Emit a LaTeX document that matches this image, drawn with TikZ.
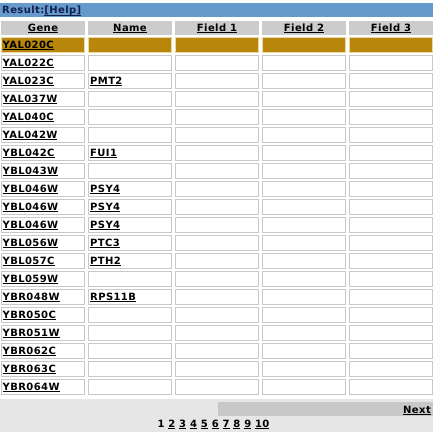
\documentclass[tikz,border=0pt]{standalone}
\usepackage{fontspec}
\setmainfont{DejaVu Sans}
\newfontfamily\vb[LetterSpace=4]{DejaVu Sans Bold}
\definecolor{titleblue}{HTML}{6699CC}
\definecolor{navy}{HTML}{14214D}
\definecolor{hdrgrey}{HTML}{CCCCCC}
\definecolor{gold}{HTML}{B8860B}
\definecolor{goldline}{HTML}{EAD9A0}
\definecolor{cellline}{HTML}{C8C8C8}
\definecolor{footgrey}{HTML}{E6E6E6}
\definecolor{nextgrey}{HTML}{C8C8C8}
\newcommand\lnk[1]{\setbox0\hbox{#1}\rlap{\rule[-1.8pt]{\wd0}{0.9pt}}\box0\relax}
\tikzset{
  txt/.style={font=\vb\fontsize{10}{12}\selectfont, inner sep=0pt, text=black},
  box/.style={anchor=north west, inner sep=0pt, outer sep=0pt, minimum width=#1, minimum height=15pt},
  hdr/.style={box=84pt, fill=hdrgrey},
  cell/.style={box=83pt, draw=cellline, line width=0.8pt, fill=white},
  goldcell/.style={box=83pt, draw=goldline, line width=0.8pt, fill=gold},
}
\begin{document}
\begin{tikzpicture}[x=1pt,y=-1pt]
\useasboundingbox (0,0) rectangle (438,435);
\fill[white] (0,0) rectangle (438,435);
% title bar
\node[anchor=north west, inner sep=0pt, fill=titleblue, minimum width=433pt, minimum height=14pt] (title) at (0,3) {};
\node[txt, anchor=base west, text=navy] (res) at (2,14) {Result:\lnk{[Help]}};
% header
\foreach \x/\t [count=\k] in {1/Gene,88/Name,175/Field 1,262/Field 2,349/Field 3}{
  \node[hdr, minimum height=14pt] (h\k) at (\x,21) {};
  \node[txt, anchor=base] (ht\k) at ({\x+42},31.5) {\lnk{\t}};
}
% gold row
\foreach \x [count=\k] in {1.5,88.5,175.5,262.5,349.5}{
  \node[goldcell] (c1-\k) at (\x,37.5) {};
}
\node[txt, anchor=base west] (g1) at (2.5,48.5) {\lnk{YAL020C}};
% other rows
\foreach \g/\n [count=\i from 2] in {YAL022C/,YAL023C/PMT2,YAL037W/,YAL040C/,YAL042W/,YBL042C/FUI1,YBL043W/,YBL046W/PSY4,YBL046W/PSY4,YBL046W/PSY4,YBL056W/PTC3,YBL057C/PTH2,YBL059W/,YBR048W/RPS11B,YBR050C/,YBR051W/,YBR062C/,YBR063C/,YBR064W/}{
  \pgfmathsetmacro\top{37.5+18*(\i-1)}
  \foreach \x [count=\k] in {1.5,88.5,175.5,262.5,349.5}{
    \node[cell] (c\i-\k) at (\x,\top) {};
  }
  \node[txt, anchor=base west] (g\i) at (2.5,{\top+11}) {\lnk{\g}};
  \if\relax\detokenize\expandafter{\n}\relax\else
    \node[txt, anchor=base west] (n\i) at (90,{\top+11}) {\lnk{\n}};
  \fi
}
% footer
\node[anchor=north west, inner sep=0pt, fill=footgrey, minimum width=433pt, minimum height=33pt] (foot) at (0,399) {};
\node[anchor=north west, inner sep=0pt, fill=nextgrey, minimum width=215pt, minimum height=14pt] (nextbar) at (218,402) {};
\node[txt, anchor=base east] (next) at (431,413) {\lnk{Next}};
\node[txt, anchor=base] (pages) at (213.5,427) {1 \lnk{2} \lnk{3} \lnk{4} \lnk{5} \lnk{6} \lnk{7} \lnk{8} \lnk{9} \lnk{10}};
\end{tikzpicture}
\end{document}
